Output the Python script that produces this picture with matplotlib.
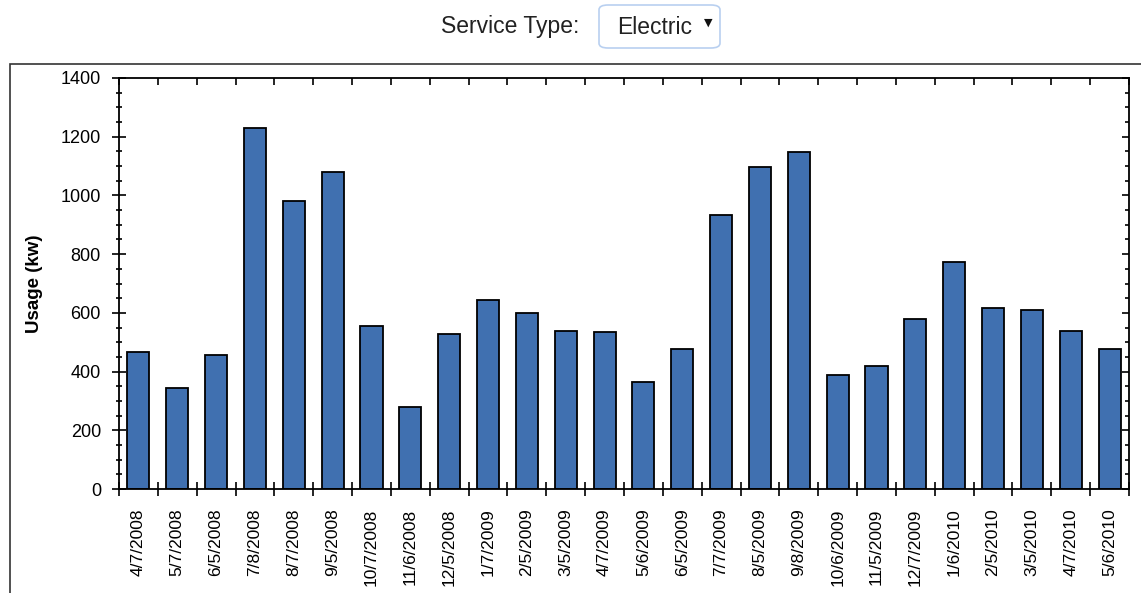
import numpy as np
import matplotlib
matplotlib.use('Agg')
import matplotlib.pyplot as plt
from matplotlib.ticker import MultipleLocator, FixedLocator
from matplotlib.patches import FancyBboxPatch, Rectangle

# datos
fechas = ['4/7/2008', '5/7/2008', '6/5/2008', '7/8/2008', '8/7/2008', '9/5/2008',
          '10/7/2008', '11/6/2008', '12/5/2008', '1/7/2009', '2/5/2009', '3/5/2009',
          '4/7/2009', '5/6/2009', '6/5/2009', '7/7/2009', '8/5/2009', '9/8/2009',
          '10/6/2009', '11/5/2009', '12/7/2009', '1/6/2010', '2/5/2010', '3/5/2010',
          '4/7/2010', '5/6/2010']
uso = [467, 344, 456, 1230, 981, 1080, 555, 279, 528, 644, 600, 538,
       535, 364, 477, 933, 1097, 1148, 388, 419, 579, 773, 616, 610,
       538, 477]

plt.rcParams['font.family'] = 'Liberation Sans'

W, H = 1141, 593
fig = plt.figure(figsize=(W/100, H/100), dpi=100)

# marco exterior
fig.patches.append(Rectangle((10/W, -0.1), 1.2, (H-64)/H + 0.1, transform=fig.transFigure,
                             fill=False, edgecolor='#333333', linewidth=1.2))

# selector
fig.text(510/W, 1-27/H, 'Service Type:', ha='center', va='center', fontsize=16.5, color='#222222')
fig.patches.append(FancyBboxPatch((599/W, 1-48/H), 121/W, 43/H, transform=fig.transFigure,
                                  boxstyle='round,pad=0,rounding_size=0.008',
                                  facecolor='white', edgecolor='#b9d0f0', linewidth=1.2))
fig.text(617/W, 1-27/H, 'Electric', ha='left', va='center', fontsize=16.5, color='#222222')
fig.text(708/W, 1-23/H, '\u25bc', ha='center', va='center', fontsize=8, color='#111111',
         family='DejaVu Sans')

ax = fig.add_axes([119/W, 1-489/H, 1010/W, 411/H])
x = np.arange(len(fechas))
ax.bar(x, uso, width=0.57, color='#4070b0', edgecolor='black', linewidth=1.3)
ax.set_xlim(-0.5, len(fechas)-0.5)
ax.set_ylim(0, 1400)

for s in ax.spines.values():
    s.set_linewidth(1.3)

ax.yaxis.set_major_locator(MultipleLocator(200))
ax.yaxis.set_minor_locator(MultipleLocator(50))
ax.tick_params(axis='y', which='major', direction='inout', length=10, width=1.2,
               labelsize=13, pad=8, right=False)
ax.tick_params(axis='y', which='minor', direction='inout', length=5, width=1.2, right=False)

ax.xaxis.set_major_locator(FixedLocator(np.arange(-0.5, len(fechas), 1.0)))
ax.set_xticklabels([])
ax.xaxis.set_minor_locator(FixedLocator(x))
ax.set_xticklabels(fechas, minor=True, rotation=90, fontsize=12.5)
ax.tick_params(axis='x', which='major', direction='inout', length=10, width=1.2, top=False)
ax.tick_params(axis='x', which='minor', length=0, pad=14)

ax.set_ylabel('Usage (kw)', fontsize=13.5, fontweight='bold', labelpad=13)

# ejes secundarios para ticks superior y derecho
ax2 = ax.twinx()
ax2.set_ylim(0, 1400)
ax2.yaxis.set_major_locator(MultipleLocator(200))
ax2.yaxis.set_minor_locator(MultipleLocator(50))
ax2.tick_params(axis='y', which='major', direction='in', length=5, width=1.2, labelright=False)
ax2.tick_params(axis='y', which='minor', direction='in', length=3, width=1.2)
ax3 = ax.twiny()
ax3.set_xlim(-0.5, len(fechas)-0.5)
ax3.xaxis.set_major_locator(FixedLocator(np.arange(-0.5, len(fechas), 1.0)))
ax3.tick_params(axis='x', which='major', direction='in', length=5, width=1.2, labeltop=False)
for a in (ax2, ax3):
    for s in a.spines.values():
        s.set_visible(False)

plt.savefig('out.png', dpi=100)
